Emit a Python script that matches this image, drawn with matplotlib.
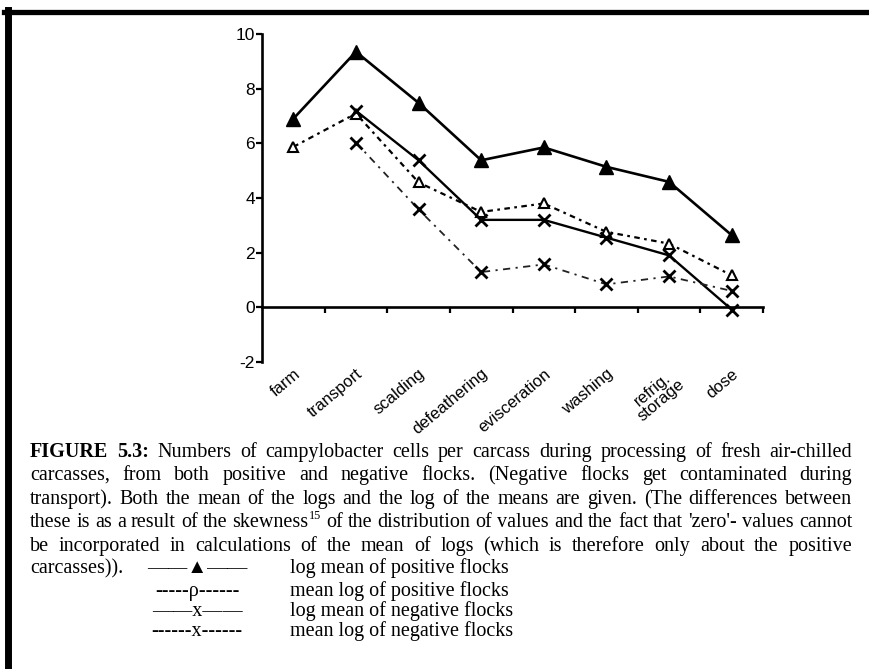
import numpy as np
import matplotlib
matplotlib.use('Agg')
import matplotlib.pyplot as plt
from matplotlib.lines import Line2D

W, H = 870, 669

# data
stages = ['farm', 'transport', 'scalding', 'defeathering', 'evisceration',
          'washing', 'refrig.\nstorage', 'dose']
log_mean_pos = [6.9, 9.35, 7.48, 5.38, 5.85, 5.14, 4.59, 2.64]
mean_log_pos = [5.87, 7.09, 4.57, 3.49, 3.80, 2.76, 2.33, 1.17]
log_mean_neg = [np.nan, 7.19, 5.38, 3.2, 3.2, 2.55, 1.90, -0.08]
mean_log_neg = [np.nan, 6.03, 3.58, 1.29, 1.57, 0.84, 1.13, 0.60]
y_ticks = [-2, 0, 2, 4, 6, 8, 10]

caption = [
    "FIGURE 5.3: Numbers of campylobacter cells per carcass during processing of fresh air-chilled",
    "carcasses, from both positive and negative flocks. (Negative flocks get contaminated during",
    "transport). Both the mean of the logs and the log of the means are given. (The differences between",
    "these is as a result of the skewness^15 of the distribution of values and the fact that 'zero'- values cannot",
    "be incorporated in calculations of the mean of logs (which is therefore only about the positive",
    "carcasses)).",
]
legend_marks = ["\u2014\u2014\u25b2\u2014\u2014", "-----\u03c1------",
                "\u2014\u2014x\u2014\u2014", "------x------"]
legend_labels = ["log mean of positive flocks", "mean log of positive flocks",
                 "log mean of negative flocks", "mean log of negative flocks"]


def fx(x):
    return x / W


def fy(y):
    return 1 - y / H


fig = plt.figure(figsize=(W / 100, H / 100), dpi=100)
fig.patch.set_facecolor('white')

# scanned page frame
fig.add_artist(Line2D([fx(4), 1], [fy(11.5), fy(11.5)], color='black', lw=3.8))
fig.add_artist(Line2D([fx(8.5), fx(8.5)], [fy(9.5), 0], color='black', lw=5))

# chart
ax = fig.add_axes([fx(262), fy(362), 501 / W, (362 - 34) / H])
x = np.arange(len(stages))
ax.plot(x, log_mean_pos, color='black', lw=1.9, marker='^', ms=9.5,
        clip_on=False, zorder=4)
ax.plot(x, mean_log_pos, color='black', lw=1.6, ls=(0, (2.5, 2, 1.2, 2)),
        marker='^', ms=7.5, mfc='white', mew=1.5, clip_on=False, zorder=3)
ax.plot(x, log_mean_neg, color='black', lw=1.7, marker='x', ms=8.5, mew=2,
        clip_on=False, zorder=3)
ax.plot(x, mean_log_neg, color='#222222', lw=1.3, ls=(0, (4, 3, 1.2, 3)),
        marker='x', ms=8.5, mew=2, mec='black', clip_on=False, zorder=3)

ax.set_xlim(-0.5, 7.5)
ax.set_ylim(-2, 10)
for s in ['top', 'right']:
    ax.spines[s].set_visible(False)
ax.spines['bottom'].set_position(('data', 0))
ax.spines['left'].set_linewidth(1.9)
ax.spines['bottom'].set_linewidth(1.9)
ax.set_yticks(y_ticks)
ax.set_yticklabels([str(v) for v in y_ticks], family='Liberation Sans',
                   fontsize=12.5)
ax.set_xticks(np.arange(0.5, 8, 1))
ax.set_xticklabels([])
ax.tick_params(axis='both', direction='out', length=4, width=1.6, pad=1)
ax.set_facecolor('none')

for i, s in enumerate(stages):
    ax.text(i, -2.15, s, rotation=40, ha='right', va='top',
            rotation_mode='anchor', family='Liberation Sans', fontsize=12,
            multialignment='center', linespacing=0.9)

# caption, justified like the scanned page
cap_fs = 14.5
renderer = fig.canvas.get_renderer()


def word_pieces(word, first_line):
    if '^' in word:
        a, b = word.split('^')
        return [(a, 'n'), (b, 's')]
    if first_line and word in ('FIGURE', '5.3:'):
        return [(word, 'b')]
    return [(word, 'n')]


def put_line(line, base_y, first_line=False, justify=True, x0=30, x1=852):
    words = line.split(' ')
    groups = []
    for w in words:
        arts = []
        for txt, kind in word_pieces(w, first_line):
            kw = dict(fontsize=cap_fs, family='Liberation Serif',
                      va='baseline', color='black')
            yy = base_y
            if kind == 'b':
                kw['weight'] = 'bold'
            if kind == 's':
                kw['fontsize'] = cap_fs * 0.6
                yy = base_y - 8
            arts.append(fig.text(0, fy(yy), txt, **kw))
        groups.append(arts)
    widths = [[a.get_window_extent(renderer).width for a in arts]
              for arts in groups]
    total = sum(sum(w) for w in widths)
    if justify and len(groups) > 1:
        gap = (x1 - x0 - total) / (len(groups) - 1)
    else:
        gap = 5
    xx = x0
    for arts, ws in zip(groups, widths):
        for a, w in zip(arts, ws):
            a.set_x(fx(xx))
            xx += w
        xx += gap


baselines = [457, 480, 504, 527, 551, 573]
for k, (line, by) in enumerate(zip(caption, baselines)):
    put_line(line, by, first_line=(k == 0), justify=(k < len(caption) - 1))

legend_base = [573, 596, 616, 636]
for mk, lab, by in zip(legend_marks, legend_labels, legend_base):
    fig.text(fx(197), fy(by), mk, ha='center', va='baseline', fontsize=cap_fs,
             family=['Liberation Serif', 'DejaVu Sans'])
    fig.text(fx(290), fy(by), lab, ha='left', va='baseline', fontsize=cap_fs,
             family='Liberation Serif')

fig.savefig('out.png', dpi=100)
